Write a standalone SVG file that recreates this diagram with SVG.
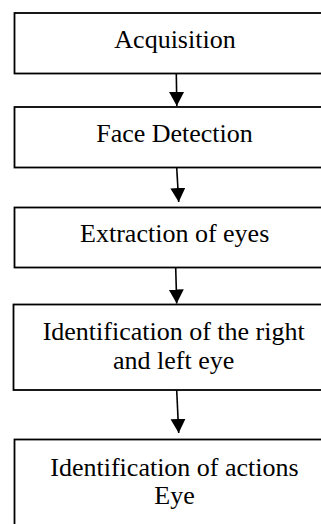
<svg xmlns="http://www.w3.org/2000/svg" width="321" height="524" viewBox="0 0 321 524">
<style>
.box{fill:#fff;stroke:#000;stroke-width:1.8}
.lbl{font-size:26px;fill:#000;text-anchor:middle}
.conn{stroke:#000;stroke-width:1.6;fill:none}
</style>
<defs>
<marker id="ah" markerUnits="userSpaceOnUse" markerWidth="16" markerHeight="16" refX="14" refY="7.5" orient="auto">
<path d="M0,0 L14,7.5 L0,15 Z" fill="#000"/>
</marker>
</defs>
<rect width="321" height="524" fill="#fff"/>
<g font-family="Liberation Serif, Times New Roman, DejaVu Serif, serif">
<g id="n1">
<rect class="box" x="14.5" y="13" width="321" height="60.5"/>
<text class="lbl" x="175" y="47.5">Acquisition</text>
</g>
<g id="n2">
<rect class="box" x="14.5" y="107" width="321" height="60.5"/>
<text class="lbl" x="174.5" y="141.5">Face Detection</text>
</g>
<g id="n3">
<rect class="box" x="14.5" y="207.5" width="321" height="60"/>
<text class="lbl" x="174.7" y="241.5">Extraction of eyes</text>
</g>
<g id="n4">
<rect class="box" x="13.5" y="304.5" width="322" height="85.5"/>
<text class="lbl" x="173.7" y="340">Identification of the right</text>
<text class="lbl" x="173.7" y="368.5">and left eye</text>
</g>
<g id="n5">
<rect class="box" x="14.5" y="439.5" width="321" height="100"/>
<text class="lbl" x="174.5" y="475.5">Identification of actions</text>
<text class="lbl" x="174.5" y="504">Eye</text>
</g>
</g>
<g id="connectors">
<line class="conn" x1="176.3" y1="73.5" x2="176.8" y2="106" marker-end="url(#ah)"/>
<line class="conn" x1="176.7" y1="167.5" x2="178.7" y2="202" marker-end="url(#ah)"/>
<line class="conn" x1="175.7" y1="267.5" x2="176.7" y2="303.5" marker-end="url(#ah)"/>
<line class="conn" x1="176.7" y1="390" x2="178.7" y2="433" marker-end="url(#ah)"/>
</g>
</svg>
